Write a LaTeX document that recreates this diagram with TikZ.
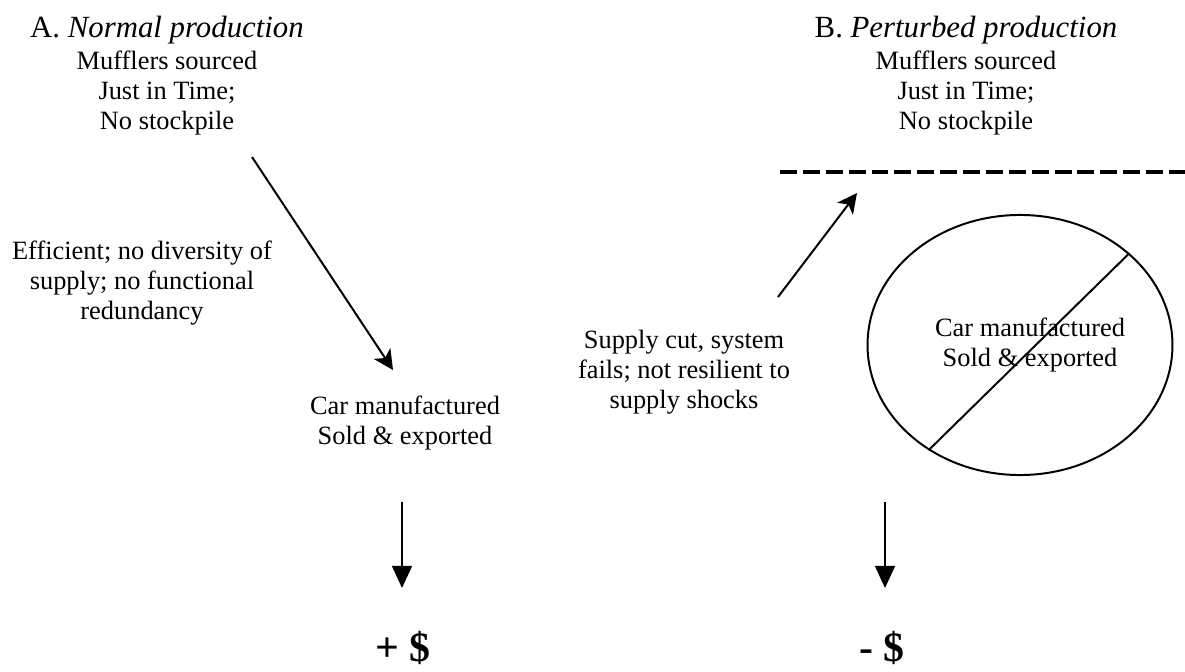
\documentclass[tikz,border=0pt]{standalone}
\usepackage{fontspec}
\setmainfont{Liberation Serif}
\usepackage{tikz}
\usetikzlibrary{arrows.meta, shapes.geometric, positioning}
\tikzstyle{heading} = [inner sep=0pt, font=\fontsize{14pt}{16pt}\selectfont]
\tikzstyle{textblock} = [inner sep=0pt, align=center, font=\fontsize{12pt}{13.6pt}\selectfont]
\tikzstyle{money} = [inner sep=0pt, font=\fontsize{19pt}{22pt}\selectfont\bfseries]
\tikzstyle{oval} = [ellipse, draw=black, line width=0.9pt, minimum width=138.6pt, minimum height=118.2pt, inner sep=0pt]
\tikzstyle{arrow} = [line width=0.9pt, -{Stealth[length=9pt, width=9pt, inset=2.5pt]}]
\tikzstyle{droparrow} = [line width=0.9pt, -{Triangle[length=10pt, width=9pt]}]
\tikzstyle{cutline} = [line width=1.4pt, dash pattern=on 7.7pt off 2.7pt]

\begin{document}
\begin{tikzpicture}[x=0.4545pt, y=-0.4545pt]
	\useasboundingbox (0,0) rectangle (1185,672);
	% panel A
	\node (TitleA) [heading, anchor=base] at (167,38) {A. \textit{Normal production}};
	\node (SourceA) [textblock, below = 2.7pt of TitleA] {Mufflers sourced\\Just in Time;\\No stockpile};
	\node (Efficient) [textblock] at (142,283) {Efficient; no diversity of\\supply; no functional\\redundancy};
	\node (CarA) [textblock] at (405,423) {Car manufactured\\Sold \& exported};
	\node (Gain) [money] at (403,648) {+ \$};
	% panel B
	\node (TitleB) [heading, anchor=base] at (966,38) {B. \textit{Perturbed production}};
	\node (SourceB) [textblock, below = 2.7pt of TitleB] {Mufflers sourced\\Just in Time;\\No stockpile};
	\node (Shock) [textblock] at (684,372) {Supply cut, system\\fails; not resilient to\\supply shocks};
	\node (CarOval) [oval] at (1020,345) {};
	\node (CarB) [textblock] at (1030,345) {Car manufactured\\Sold \& exported};
	\node (Loss) [money] at (882,648) {- \$};
	% free arrow ends
	\coordinate (FlowA) at (252,157);
	\coordinate (FlowAEnd) at (393,370);
	\coordinate (DropA) at (402,502);
	\coordinate (DropAEnd) at (402,588);
	\coordinate (FlowB) at (778,297);
	\coordinate (FlowBEnd) at (857,193);
	\coordinate (DropB) at (885,502);
	\coordinate (DropBEnd) at (885,588);
	\coordinate (CutLeft) at (780,172);
	\coordinate (CutRight) at (1192,172);
	\draw [arrow] (FlowA) -- (FlowAEnd);
	\draw [droparrow] (DropA) -- (DropAEnd);
	\draw [arrow] (FlowB) -- (FlowBEnd);
	\draw [droparrow] (DropB) -- (DropBEnd);
	\draw [cutline] (CutLeft) -- (CutRight);
	\draw [line width=0.9pt] (CarOval.-131) -- (CarOval.40);
\end{tikzpicture}
\end{document}
